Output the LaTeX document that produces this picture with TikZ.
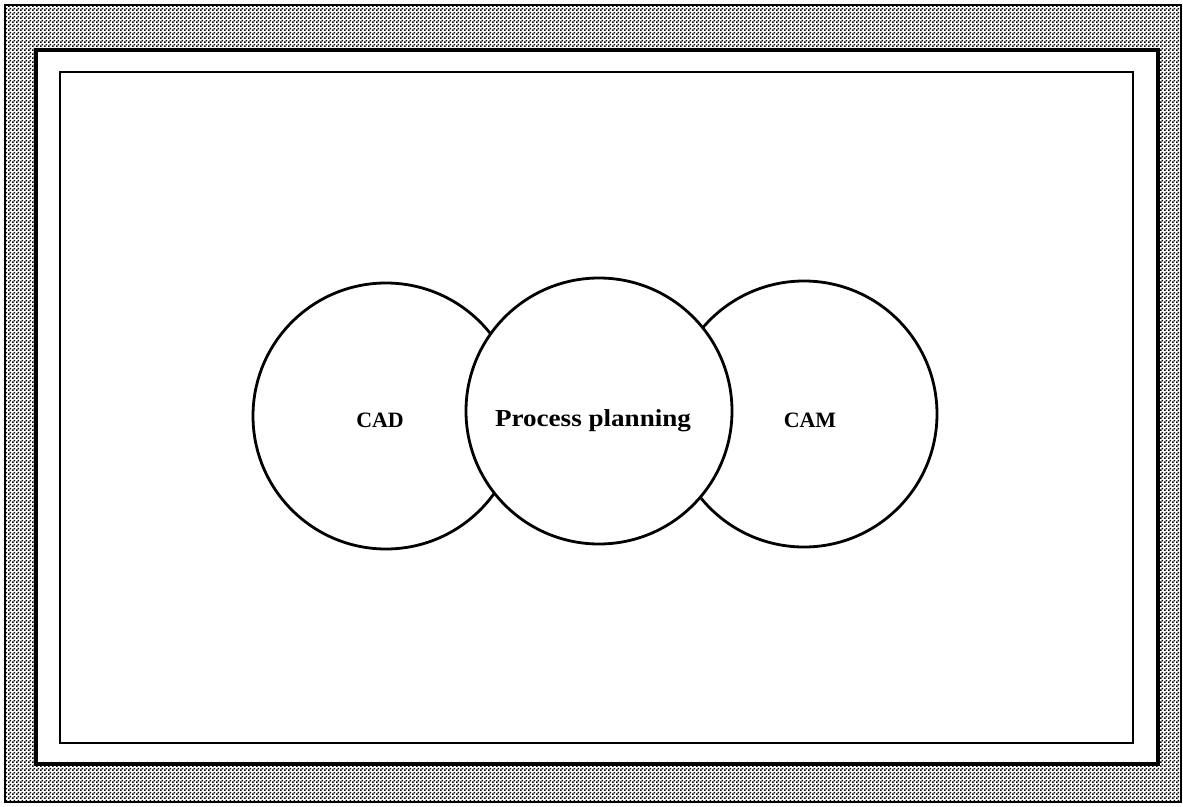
\documentclass[tikz,border=0pt]{standalone}
\usepackage{fontspec}
\setmainfont{Liberation Serif}
\usetikzlibrary{patterns.meta}

% fine checkerboard halftone used for the frame band
\tikzdeclarepattern{
  name=halftone,
  type=uncolored,
  bounding box={(0,0) and (4bp,4bp)},
  tile size={(4bp,4bp)},
  code={
    \fill (0,0) rectangle (2bp,2bp);
    \fill (2bp,2bp) rectangle (4bp,4bp);
  }
}

\tikzset{
  ring/.style={circle, draw, line width=2.8bp, minimum size=266bp, inner sep=0pt, fill=white},
  label/.style={font=\bfseries\fontsize{22}{24}\selectfont, inner sep=0pt},
}

\begin{document}
\begin{tikzpicture}[x=1bp, y=-1bp]
  \useasboundingbox (0,0) rectangle (1183,807);
  \fill[white] (0,0) rectangle (1183,807);

  % outer shaded band
  \fill[pattern=halftone, pattern color=black, even odd rule]
    (5,5) rectangle (1181,802) (36,50) rectangle (1158,764);
  \draw[line width=2bp] (5,5) rectangle (1181,802);
  \draw[line width=4.5bp, fill=white] (36,50) rectangle (1158,764);

  % inner frame
  \draw[line width=2.8bp] (60,72) rectangle (1133,743);

  % three overlapping circles, middle one on top
  \node[ring] (cad) at (386,416) {};
  \node[ring] (cam) at (804,414) {};
  \node[ring] (pp)  at (599,411) {};

  \node[label] (cadtext) at (380,420) {CAD};
  \node[label, font=\bfseries\fontsize{24.5}{26}\selectfont] (pptext) at (593,421)
    {\scalebox{1.11}[1]{Process planning}};
  \node[label] (camtext) at (810,420) {CAM};
\end{tikzpicture}
\end{document}
